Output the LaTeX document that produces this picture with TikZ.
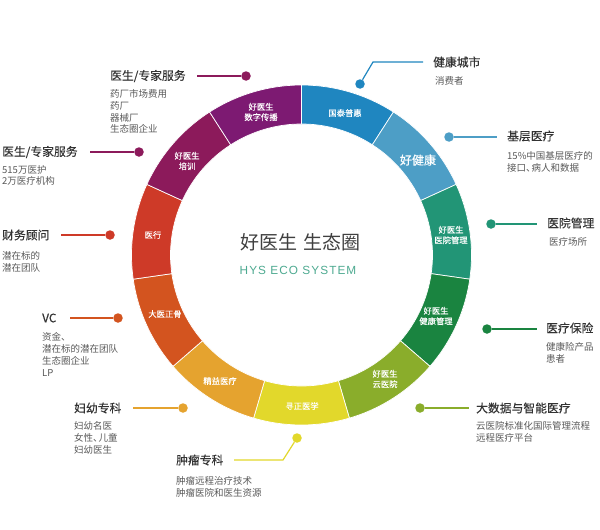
\documentclass[tikz,border=0pt]{standalone}
\usepackage{fontspec}
\newfontfamily\cjk{Noto Sans CJK SC}
\newfontfamily\cjkhead[FakeBold=0.3]{Noto Sans CJK SC}
\newfontfamily\cjkseg[FakeBold=0.2]{Noto Sans CJK SC}
\newfontfamily\latinsp[LetterSpace=9]{Liberation Sans}
\newcommand{\dun}{、\kern-4pt}
\tikzset{x=1pt,y=1pt,
  head/.style={anchor=west,inner sep=0pt,text=black!80,font=\cjkhead\fontsize{11.8}{14}\selectfont},
  subtext/.style={anchor=west,inner sep=0pt,align=left,text=black!65,font=\cjk\fontsize{9.5}{11.8}\selectfont},
  seglabel/.style={inner sep=0pt,align=center,text=white,font=\cjkseg\fontsize{8.3}{10.4}\selectfont},
  dot/.style={circle,fill=#1,minimum size=9.5pt,inner sep=0pt},
  wire/.style={draw=#1,line width=1.2pt}
}
\definecolor{cpurple}{HTML}{7D1A72}
\definecolor{cblue}{HTML}{1F86C0}
\definecolor{clblue}{HTML}{4D9EC6}
\definecolor{cteal}{HTML}{229576}
\definecolor{cgreen}{HTML}{1A8440}
\definecolor{clime}{HTML}{8AAD2B}
\definecolor{cyellow}{HTML}{E2D82B}
\definecolor{corange}{HTML}{E5A32F}
\definecolor{cdorange}{HTML}{D3541F}
\definecolor{cred}{HTML}{CE3A28}
\definecolor{cmaroon}{HTML}{8C1A5B}
\newcommand{\ringseg}[2]{%
  \pgfmathsetmacro{\angA}{90-#1*360/11}%
  \pgfmathsetmacro{\angB}{90-(#1+1)*360/11}%
  \filldraw[fill=#2,draw=white,line width=.7pt]
    (\angA:170) arc[start angle=\angA,end angle=\angB,radius=170]
    -- (\angB:131) arc[start angle=\angB,end angle=\angA,radius=131] -- cycle;}
\begin{document}
\begin{tikzpicture}
\useasboundingbox (0,-530) rectangle (600,0);
\fill[white] (0,-530) rectangle (600,0);
\begin{scope}[shift={(301.5,-255)}]
\ringseg{0}{cblue}
\ringseg{1}{clblue}
\ringseg{2}{cteal}
\ringseg{3}{cgreen}
\ringseg{4}{clime}
\ringseg{5}{cyellow}
\ringseg{6}{corange}
\ringseg{7}{cdorange}
\ringseg{8}{cred}
\ringseg{9}{cmaroon}
\ringseg{10}{cpurple}
\end{scope}
% ring labels
\node[seglabel] (s0) at (345,-113) {国泰普惠};
\node[seglabel,font=\cjkseg\fontsize{12}{14}\selectfont] (s1) at (418,-160) {好健康};
\node[seglabel] (s2) at (451,-235) {好医生\\医院管理};
\node[seglabel] (s3) at (436,-316) {好医生\\健康管理};
\node[seglabel] (s4) at (385,-379) {好医生\\云医院};
\node[seglabel] (s5) at (302,-406) {寻正医学};
\node[seglabel] (s6) at (220,-381) {精益医疗};
\node[seglabel] (s7) at (165,-314) {大医正骨};
\node[seglabel] (s8) at (153,-235) {医行};
\node[seglabel] (s9) at (187,-161) {好医生\\培训};
\node[seglabel] (s10) at (261,-112) {好医生\\数字传播};
% centre title
\node[inner sep=0pt,text=black!75,font=\cjk\fontsize{19}{22}\selectfont] (title) at (300.5,-242) {好医生\kern2pt\ 生态圈};
\node[inner sep=0pt,text=cteal!80,font=\latinsp\fontsize{11.8}{14}\selectfont] (subtitle) at (298,-270) {HYS ECO SYSTEM};
% callouts
\node[head] (h1) at (110,-76) {医生/专家服务};
\node[subtext] (t1) at (110,-111.5) {药厂市场费用\\药厂\\器械厂\\生态圈企业};
\node[dot=cmaroon] (d1) at (246,-76) {};
\coordinate (e1) at (197,-76);
\draw[wire=cmaroon] (e1) -- (d1);

\node[head] (h2) at (2,-152) {医生/专家服务};
\node[subtext] (t2) at (2,-175.5) {515万医护\\2万医疗机构};
\node[dot=cmaroon] (d2) at (139,-152) {};
\coordinate (e2) at (90,-152);
\draw[wire=cmaroon] (e2) -- (d2);

\node[head] (h3) at (2,-235) {财务顾问};
\node[subtext] (t3) at (2,-262) {潜在标的\\潜在团队};
\node[dot=cred] (d3) at (110,-235) {};
\coordinate (e3) at (61,-235);
\draw[wire=cred] (e3) -- (d3);

\node[head] (h4) at (42,-318) {VC};
\node[subtext] (t4) at (42,-354.5) {资金、\\潜在标的潜在团队\\生态圈企业\\LP};
\node[dot=cdorange] (d4) at (118,-318) {};
\coordinate (e4) at (70,-318);
\draw[wire=cdorange] (e4) -- (d4);

\node[head] (h5) at (74,-408) {妇幼专科};
\node[subtext] (t5) at (74,-438) {妇幼名医\\女性\dun 儿童\\妇幼医生};
\node[dot=corange] (d5) at (183,-408) {};
\coordinate (e5) at (133,-408);
\draw[wire=corange] (e5) -- (d5);

\node[head] (h6) at (176,-460) {肿瘤专科};
\node[subtext] (t6) at (176,-487) {肿瘤远程治疗技术\\肿瘤医院和医生资源};
\node[dot=cyellow] (d6) at (297,-438) {};
\coordinate (e6) at (234,-460);
\coordinate (k6) at (283,-460);
\draw[wire=cyellow] (e6) -- (k6) -- (d6);

\node[head] (h7) at (476,-408) {大数据与智能医疗};
\node[subtext] (t7) at (476,-432) {云医院标准化国际管理流程\\远程医疗平台};
\node[dot=clime] (d7) at (420,-408) {};
\coordinate (e7) at (469,-408);
\draw[wire=clime] (d7) -- (e7);

\node[head] (h8) at (546,-328) {医疗保险};
\node[subtext] (t8) at (546,-353) {健康险产品\\患者};
\node[dot=cgreen] (d8) at (487,-329) {};
\coordinate (e8) at (537,-329);
\draw[wire=cgreen] (d8) -- (e8);

\node[head] (h9) at (547,-223) {医院管理};
\node[subtext] (t9) at (549,-242) {医疗场所};
\node[dot=cteal] (d9) at (491,-224) {};
\coordinate (e9) at (537,-224);
\draw[wire=cteal] (d9) -- (e9);

\node[head] (h10) at (507,-136) {基层医疗};
\node[subtext] (t10) at (507,-161.5) {15\%中国基层医疗的\\接口\dun 病人和数据};
\node[dot=clblue] (d10) at (449,-137) {};
\coordinate (e10) at (497,-137);
\draw[wire=clblue] (d10) -- (e10);

\node[head] (h11) at (433,-62) {健康城市};
\node[subtext] (t11) at (435,-81) {消费者};
\node[dot=cblue] (d11) at (360,-84) {};
\coordinate (k11) at (373,-62);
\coordinate (e11) at (423,-62);
\draw[wire=cblue] (d11) -- (k11) -- (e11);
\end{tikzpicture}
\end{document}
